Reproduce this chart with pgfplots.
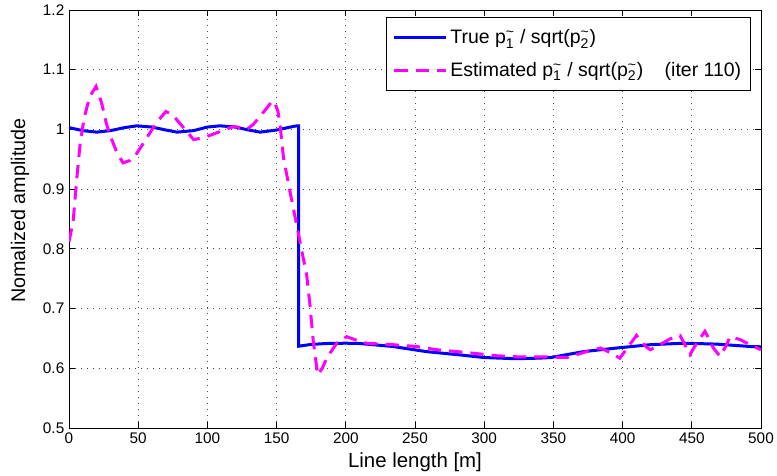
\documentclass[border=0pt]{standalone}
\usepackage{pgfplots}
\pgfplotsset{compat=1.18}
\usepackage{fontspec}
\setmainfont{Liberation Sans}
\definecolor{mag}{rgb}{1,0,1}
\definecolor{blu}{rgb}{0,0,1}
\newcommand{\pt}[1]{p$^{\mbox{\fontsize{10.5}{10.5}\selectfont\textasciitilde}}_{\mbox{\fontsize{10.5}{10.5}\selectfont #1}}$}
\begin{document}
\begin{tikzpicture}
\path[use as bounding box] (-51.75pt,-35.25pt) rectangle (531pt,321pt);
\begin{axis}[
  at={(0,0)}, anchor=south west,
  scale only axis, width=519pt, height=313.5pt,
  xmin=0, xmax=500, ymin=0.5, ymax=1.2,
  xtick={0,50,100,150,200,250,300,350,400,450,500},
  ytick={0.5,0.6,0.7,0.8,0.9,1,1.1,1.2},
  yticklabels={0.5,0.6,0.7,0.8,0.9,1,1.1,1.2},
  /pgf/number format/assume math mode=true,
  ticklabel style={font=\fontsize{11.5}{13}\selectfont},
  tick align=inside, tick pos=both,
  major tick length=4.5pt,
  tick style={black, line width=0.6pt},
  axis line style={black, line width=0.75pt},
  grid=major,
  major grid style={black!70, line width=0.6pt, dash pattern=on 0.6pt off 3.9pt},
  xlabel={Line length [m]},
  ylabel={Nomalized amplitude},
  xlabel style={font=\fontsize{15.3}{17}\selectfont, at={(axis description cs:0.5,0)}, anchor=center, yshift=-25.5pt},
  ylabel style={font=\fontsize{14.8}{17}\selectfont, at={(axis description cs:-0.0709,0.52)}, anchor=center},
  legend cell align=left,
  legend image code/.code={\draw[#1] (0pt,0pt) -- (39pt,0pt);},
  legend style={font=\fontsize{14.6}{17}\selectfont, draw=black, line width=0.75pt, fill=white,
    at={(rel axis cs:1,1)}, anchor=north east, xshift=-7.5pt, yshift=-5.5pt,
    inner xsep=5pt, inner ysep=7pt, row sep=8pt},
]
\addplot[blu, line width=2.25pt] coordinates {
(0,1.003) (10,0.998) (20,0.9955) (30,0.998) (40,1.003) (49,1.006) (60,1.004) (70,0.999)
(78,0.9955) (90,0.998) (100,1.004) (109,1.006) (120,1.004) (130,0.999) (138,0.9955)
(150,0.999) (160,1.004) (164.5,1.006) (166,1.006) (166,0.637) (175,0.640) (186,0.6415)
(200,0.642) (210,0.6415) (234,0.6365) (258,0.628) (282,0.6225) (300,0.618) (323,0.616)
(340,0.617) (348,0.618) (372,0.628) (396,0.634) (420,0.6395) (444,0.642) (468,0.6405)
(492,0.6365) (500,0.636)
};
\addlegendentry{True \pt{1} / sqrt(\pt{2})}
\addplot[mag, line width=2.25pt, dash pattern=on 10pt off 6pt] coordinates {
(0,0.812) (3,0.846) (5.5,0.915) (8,0.975) (11,1.020) (15,1.055) (19.5,1.072) (23.5,1.045)
(27,1.010) (30,0.988) (34.5,0.962) (39,0.944) (44,0.948) (49,0.960) (56,0.985) (63,1.011)
(70,1.030) (75,1.024) (79,1.013) (85,0.997) (90,0.983) (97,0.986) (104,0.992) (111,0.998)
(118.7,1.005) (124,1.003) (128.4,1.000) (133,1.008) (138,1.022) (143,1.036) (147,1.048)
(149,1.043) (151,1.030) (152.5,1.008) (155,0.952) (159.7,0.896) (164.5,0.840) (169.3,0.784)
(171.7,0.757) (174.1,0.706) (176.5,0.645) (179.7,0.589) (183,0.600) (186.2,0.617)
(193.4,0.642) (200.6,0.653) (210,0.645) (215,0.642) (234,0.6395) (251,0.6365) (266,0.631)
(280,0.628) (295,0.6245) (309,0.621) (326,0.619) (345,0.619) (360,0.618) (374,0.628)
(384,0.634) (392,0.625) (398,0.617) (404,0.636) (410,0.655) (417,0.636) (420,0.631)
(427,0.6395) (434,0.649) (441.5,0.655) (445,0.6395) (448.7,0.623) (453.5,0.642)
(459.5,0.662) (465.6,0.634) (470.4,0.620) (475.2,0.6395) (477.6,0.653) (485,0.648)
(492,0.6395) (500,0.631)
};
\addlegendentry{Estimated \pt{1} / sqrt(\pt{2})\hspace{1.1em}(iter 110)}
\end{axis}
\end{tikzpicture}
\end{document}
